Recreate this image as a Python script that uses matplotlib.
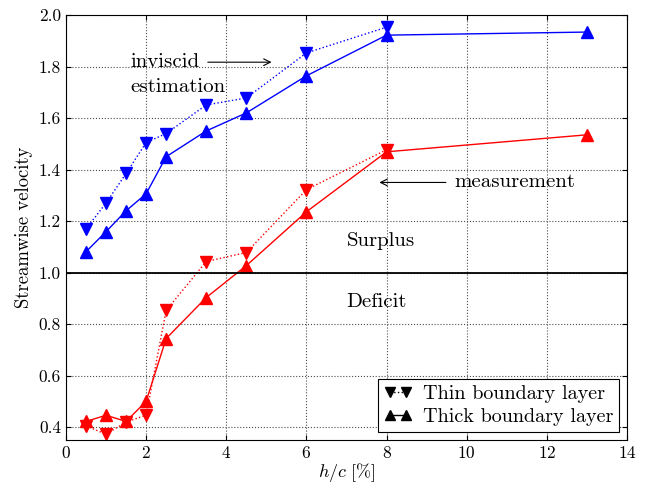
import matplotlib
matplotlib.use("Agg")
import matplotlib.pyplot as plt

plt.rcParams["font.family"] = "serif"
plt.rcParams["font.serif"] = ["cmr10", "DejaVu Serif"]
plt.rcParams["mathtext.fontset"] = "cm"
plt.rcParams["axes.formatter.use_mathtext"] = True
plt.rcParams["font.size"] = 12

# h/c [%]
x_thin = [0.5, 1, 1.5, 2, 2.5, 3.5, 4.5, 6, 8]
x_thick = [0.5, 1, 1.5, 2, 2.5, 3.5, 4.5, 6, 8, 13]

# inviscid estimation (blue)
inv_thin = [1.17, 1.27, 1.385, 1.505, 1.54, 1.651, 1.678, 1.853, 1.953]
inv_thick = [1.081, 1.159, 1.24, 1.306, 1.45, 1.55, 1.62, 1.764, 1.922, 1.934]

# measurement (red)
meas_thin = [0.405, 0.372, 0.42, 0.446, 0.853, 1.043, 1.078, 1.322, 1.477]
meas_thick = [0.422, 0.446, 0.422, 0.50, 0.744, 0.903, 1.027, 1.236, 1.469, 1.535]

fig = plt.figure(figsize=(6.5, 4.86), dpi=100)
ax = fig.add_axes([0.1015, 0.0947, 0.8631, 0.8743])

ms = 8
ax.plot(x_thin, inv_thin, "v:", color="b", ms=ms, lw=1)
ax.plot(x_thick, inv_thick, "^-", color="b", ms=ms, lw=1)
ax.plot(x_thin, meas_thin, "v:", color="r", ms=ms, lw=1)
ax.plot(x_thick, meas_thick, "^-", color="r", ms=ms, lw=1)

# legend proxies in black
ax.plot([], [], "kv:", ms=7, lw=1, label="Thin boundary layer")
ax.plot([], [], "k^-", ms=7, lw=1, label="Thick boundary layer")

ax.axhline(1.0, color="k", lw=1.3)

tfs = 15
ax.annotate("", xy=(5.2, 1.817), xytext=(3.47, 1.817),
            arrowprops=dict(arrowstyle="->", color="k", lw=0.8))
ax.text(1.6, 1.817, "inviscid", va="center", ha="left", fontsize=tfs)
ax.text(1.6, 1.72, "estimation", va="center", ha="left", fontsize=tfs)

ax.annotate("", xy=(7.75, 1.35), xytext=(9.55, 1.35),
            arrowprops=dict(arrowstyle="->", color="k", lw=0.8))
ax.text(9.7, 1.35, "measurement", va="center", ha="left", fontsize=tfs)

ax.text(7.86, 1.124, "Surplus", va="center", ha="center", fontsize=tfs)
ax.text(7.75, 0.884, "Deficit", va="center", ha="center", fontsize=tfs)

ax.set_xlim(0, 14)
ax.set_ylim(0.35, 2.0)
ax.set_xticks([0, 2, 4, 6, 8, 10, 12, 14])
ax.set_yticks([0.4, 0.6, 0.8, 1.0, 1.2, 1.4, 1.6, 1.8, 2.0])
ax.yaxis.set_major_formatter(matplotlib.ticker.FormatStrFormatter("%.1f"))
ax.grid(True, color="0.3", ls=":", lw=0.8)
ax.tick_params(direction="in", top=True, right=True, labelsize=12.5)

ax.set_xlabel(r"$h/c\ [\%]$", fontsize=13, labelpad=0)
ax.set_ylabel("Streamwise velocity", fontsize=13.5, labelpad=4)

leg = ax.legend(loc="lower right", fancybox=False, edgecolor="k", framealpha=1,
                fontsize=14.5, numpoints=2, handlelength=1.4, handletextpad=0.5,
                borderpad=0.3, labelspacing=0.25, borderaxespad=0.4)
leg.get_frame().set_linewidth(0.8)

fig.savefig("out.png", dpi=100)
